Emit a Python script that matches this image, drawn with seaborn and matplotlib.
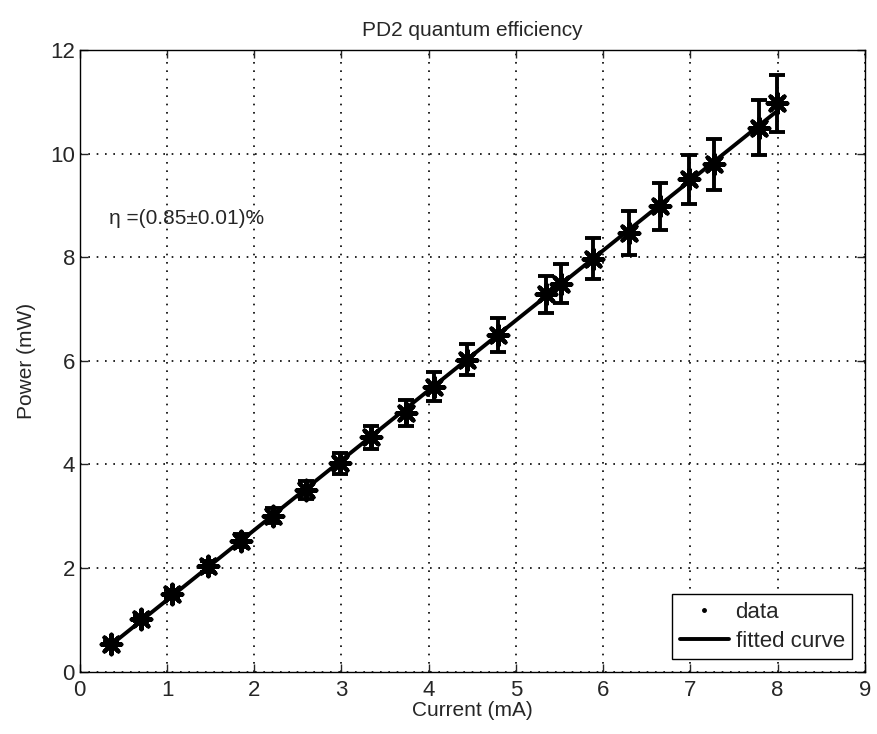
import numpy as np
import pandas as pds
import matplotlib
matplotlib.use("Agg")
import matplotlib.pyplot as plt
from matplotlib.lines import Line2D
import seaborn as sns

# Измеренные точки (ток, мА / мощность, мВт)
current = [0.36, 0.70, 1.06, 1.47, 1.85, 2.21, 2.59, 2.98, 3.34, 3.74, 4.06,
           4.44, 4.80, 5.34, 5.52, 5.89, 6.30, 6.65, 6.98, 7.27, 7.79, 7.99]
power = [0.54, 1.02, 1.50, 2.03, 2.53, 3.01, 3.51, 4.02, 4.52, 5.00, 5.50,
         6.02, 6.50, 7.28, 7.49, 7.97, 8.47, 8.98, 9.50, 9.79, 10.50, 10.97]
rel_error = 0.05

x_ticks = list(range(0, 10))
y_ticks = list(range(0, 13, 2))

df = pds.DataFrame({'Current': current, 'Power': power})
df['err'] = df['Power'] * rel_error

# Линейная аппроксимация
slope, intercept = np.polyfit(df['Current'], df['Power'], 1)
fit = pds.DataFrame({'Current': [min(current), max(current)]})
fit['Power'] = slope * fit['Current'] + intercept

sns.set_style("ticks")
plt.rcParams['font.family'] = ['Liberation Sans', 'DejaVu Sans']
plt.rcParams['xtick.direction'] = 'in'
plt.rcParams['ytick.direction'] = 'in'

fig = plt.figure(figsize=(8.77, 7.34), dpi=100)
ax = fig.add_axes([0.091, 0.085, 0.895, 0.847])

ax.errorbar(df['Current'], df['Power'], yerr=df['err'], fmt='none',
            ecolor='black', elinewidth=2.8, capsize=6, capthick=2.8, zorder=2)
sns.lineplot(data=fit, x='Current', y='Power', color='black', linewidth=2.8,
             ax=ax, zorder=3)
# звёздочка как в MATLAB: крест + косой крест
sns.scatterplot(data=df, x='Current', y='Power', marker=(8, 2, 0), s=200,
                color='black', edgecolor='black', linewidth=3, ax=ax, zorder=4)

ax.set_xlim(0, 9)
ax.set_ylim(0, 12)
ax.set_xticks(x_ticks)
ax.set_yticks(y_ticks)
ax.tick_params(labelsize=16, length=6, width=1, top=True, right=True)
ax.tick_params(axis='x', pad=6)
ax.grid(True, linestyle=(0, (1, 4)), color='black', linewidth=1.2)
for s in ax.spines.values():
    s.set_linewidth(1)
    s.set_color('black')

ax.set_xlabel('Current (mA)', fontsize=15, labelpad=0)
ax.set_ylabel('Power (mW)', fontsize=15, labelpad=10)
ax.set_title('PD2 quantum efficiency', fontsize=15, pad=10)

ax.text(0.33, 8.75, 'η =(0.85±0.01)%', fontsize=15, va='center')

handles = [Line2D([], [], linestyle='none', marker='.', color='black', markersize=5),
           Line2D([], [], color='black', linewidth=2.8)]
leg = ax.legend(handles, ['data', 'fitted curve'], loc='lower right', fontsize=16,
                frameon=True, fancybox=False, edgecolor='black', framealpha=1,
                borderaxespad=0.55, handlelength=2.2, handletextpad=0.3,
                borderpad=0.35, labelspacing=0.35)
leg.get_frame().set_linewidth(1)

fig.savefig('out.png', dpi=100)
